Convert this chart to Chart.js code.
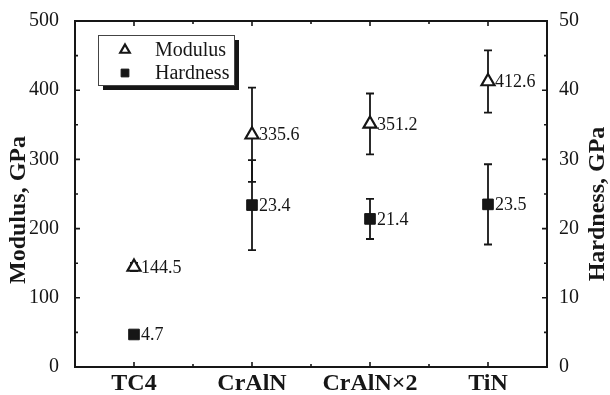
<!DOCTYPE html>
<html>
<head>
<meta charset="utf-8">
<script src="https://cdn.jsdelivr.net/npm/chart.js@4.4.0/dist/chart.umd.min.js"></script>
<style>
  html, body { margin: 0; padding: 0; background: #fff; }
  #c { display: block; }
</style>
</head>
<body>
<canvas id="c" width="610" height="395"></canvas>
<script>
// data
const categories = ['TC4', 'CrAlN', 'CrAlN×2', 'TiN'];
const modulus = [144.5, 335.6, 351.2, 412.6];
const modulusErr = [6, 68, 44, 45];
const hardness = [4.7, 23.4, 21.4, 23.5];
const hardnessErr = [0, 6.5, 2.9, 5.8];
const modulusTicks = [0, 100, 200, 300, 400, 500];
const hardnessTicks = [0, 10, 20, 30, 40, 50];

const INK = '#161616';
const SERIF = '"Liberation Serif", "Times New Roman", serif';

// error bars, drawn under the markers
const errorBars = {
    id: 'errorBars',
    beforeDatasetsDraw(chart) {
        const { ctx, scales } = chart;
        const sets = [[modulus, modulusErr, scales.y], [hardness, hardnessErr, scales.y1]];
        ctx.save();
        ctx.strokeStyle = INK;
        ctx.lineWidth = 1.8;
        sets.forEach(([vals, errs, ys]) => {
            vals.forEach((v, i) => {
                if (!errs[i]) return;
                const x = scales.x.getPixelForValue(i);
                const top = ys.getPixelForValue(v + errs[i]);
                const bot = ys.getPixelForValue(v - errs[i]);
                ctx.beginPath();
                ctx.moveTo(x, top); ctx.lineTo(x, bot);
                ctx.moveTo(x - 4, top); ctx.lineTo(x + 4, top);
                ctx.moveTo(x - 4, bot); ctx.lineTo(x + 4, bot);
                ctx.stroke();
            });
        });
        ctx.restore();
    }
};

// value labels to the right of each marker
const valueLabels = {
    id: 'valueLabels',
    afterDatasetsDraw(chart) {
        const { ctx, scales } = chart;
        ctx.save();
        ctx.fillStyle = INK;
        ctx.font = '18px ' + SERIF;
        ctx.textBaseline = 'middle';
        ctx.textAlign = 'left';
        modulus.forEach((v, i) => {
            ctx.fillText(v.toFixed(1), scales.x.getPixelForValue(i) + 7, scales.y.getPixelForValue(v) + 1);
        });
        hardness.forEach((v, i) => {
            ctx.fillText(v.toFixed(1), scales.x.getPixelForValue(i) + 7, scales.y1.getPixelForValue(v) + 1);
        });
        ctx.restore();
    }
};

// frame with inward ticks on all four sides, plus both rotated axis titles
const frame = {
    id: 'frame',
    afterDraw(chart) {
        const { ctx, chartArea: a, scales } = chart;
        ctx.save();
        ctx.strokeStyle = INK;
        ctx.lineWidth = 2;
        ctx.strokeRect(a.left, a.top, a.right - a.left, a.bottom - a.top);
        ctx.lineWidth = 1.6;
        ctx.beginPath();
        for (let i = 0; i < categories.length; i++) {
            const x = scales.x.getPixelForValue(i);
            ctx.moveTo(x, a.bottom); ctx.lineTo(x, a.bottom - 5);
            ctx.moveTo(x, a.top); ctx.lineTo(x, a.top + 5);
            if (i < categories.length - 1) {
                const xm = scales.x.getPixelForValue(i + 0.5);
                ctx.moveTo(xm, a.bottom); ctx.lineTo(xm, a.bottom - 3);
                ctx.moveTo(xm, a.top); ctx.lineTo(xm, a.top + 3);
            }
        }
        modulusTicks.forEach((t, i) => {
            const y = scales.y.getPixelForValue(t);
            ctx.moveTo(a.left, y); ctx.lineTo(a.left + 5, y);
            if (i < modulusTicks.length - 1) {
                const ym = scales.y.getPixelForValue(t + 50);
                ctx.moveTo(a.left, ym); ctx.lineTo(a.left + 3, ym);
            }
        });
        hardnessTicks.forEach((t, i) => {
            const y = scales.y1.getPixelForValue(t);
            ctx.moveTo(a.right, y); ctx.lineTo(a.right - 5, y);
            if (i < hardnessTicks.length - 1) {
                const ym = scales.y1.getPixelForValue(t + 5);
                ctx.moveTo(a.right, ym); ctx.lineTo(a.right - 3, ym);
            }
        });
        ctx.stroke();

        // both titles read bottom-to-top in the reference
        ctx.fillStyle = INK;
        ctx.font = 'bold 24px ' + SERIF;
        ctx.textAlign = 'center';
        ctx.textBaseline = 'middle';
        [['Modulus, GPa', 19, 210], ['Hardness, GPa', 598, 204]].forEach(([t, x, y]) => {
            ctx.save();
            ctx.translate(x, y);
            ctx.rotate(-Math.PI / 2);
            ctx.fillText(t, 0, 0);
            ctx.restore();
        });
        ctx.restore();
    }
};

// boxed legend with a drop shadow
const boxLegend = {
    id: 'boxLegend',
    afterDraw(chart) {
        const { ctx, chartArea: a } = chart;
        const bx = a.left + 23, by = a.top + 14, bw = 136, bh = 50;
        ctx.save();
        ctx.fillStyle = INK;
        ctx.fillRect(bx + 5, by + 5, bw, bh);
        ctx.fillStyle = '#fff';
        ctx.fillRect(bx, by, bw, bh);
        ctx.strokeStyle = '#444';
        ctx.lineWidth = 1;
        ctx.strokeRect(bx + 0.5, by + 0.5, bw, bh);
        chart.data.datasets.forEach((ds, i) => {
            const y = by + 15 + i * 23;
            ctx.lineWidth = ds.pointBorderWidth;
            ctx.strokeStyle = ds.pointBorderColor;
            ctx.fillStyle = ds.pointBackgroundColor;
            Chart.helpers.drawPoint(ctx, { pointStyle: ds.pointStyle, radius: 5.5, rotation: 0, borderWidth: ds.pointBorderWidth }, bx + 27, y);
            ctx.fillStyle = INK;
            ctx.font = '20px ' + SERIF;
            ctx.textBaseline = 'middle';
            ctx.fillText(ds.label, bx + 57, y + 1);
        });
        ctx.restore();
    }
};

new Chart(document.getElementById('c'), {
    type: 'line',
    data: {
        labels: categories,
        datasets: [{
            label: 'Modulus',
            data: modulus,
            yAxisID: 'y',
            showLine: false,
            pointStyle: 'triangle',
            pointRadius: 7.5,
            pointBackgroundColor: '#fff',
            pointBorderColor: INK,
            pointBorderWidth: 2.2,
        }, {
            label: 'Hardness',
            data: hardness,
            yAxisID: 'y1',
            showLine: false,
            pointStyle: 'rect',
            pointRadius: 7.5,
            pointBackgroundColor: INK,
            pointBorderColor: INK,
            pointBorderWidth: 1,
        }]
    },
    options: {
        responsive: false,
        animation: false,
        events: [],
        layout: { padding: { top: 21, left: 0, right: 0, bottom: 0 } },
        plugins: { legend: { display: false }, tooltip: { enabled: false } },
        scales: {
            x: {
                offset: true,
                grid: { display: false },
                border: { display: false },
                ticks: { color: INK, padding: -6, font: { family: SERIF, size: 24, weight: 'bold' } },
                afterFit: (s) => { s.height = 28; },
            },
            y: {
                position: 'left',
                min: 0, max: 500,
                afterBuildTicks: (s) => { s.ticks = modulusTicks.map(v => ({ value: v })); },
                grid: { display: false },
                border: { display: false },
                ticks: { color: INK, padding: 8, font: { family: SERIF, size: 20 } },
                afterFit: (s) => { s.width = 75; },
            },
            y1: {
                position: 'right',
                min: 0, max: 50,
                afterBuildTicks: (s) => { s.ticks = hardnessTicks.map(v => ({ value: v })); },
                grid: { display: false },
                border: { display: false },
                ticks: { color: INK, padding: 4, font: { family: SERIF, size: 20 } },
                afterFit: (s) => { s.width = 63; },
            }
        }
    },
    plugins: [errorBars, valueLabels, frame, boxLegend]
});
</script>
</body>
</html>
